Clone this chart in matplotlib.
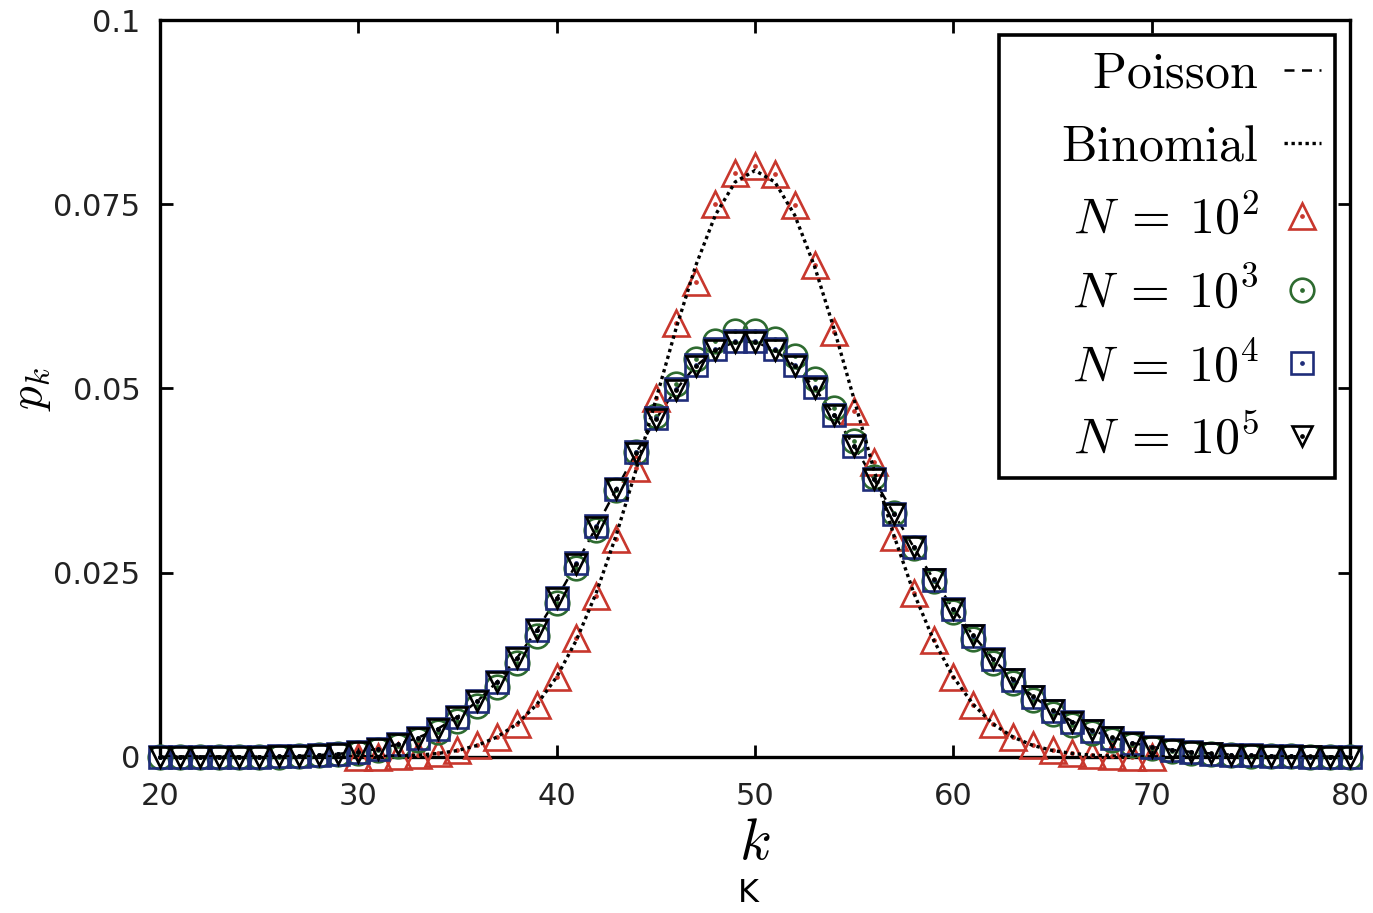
import numpy as np
import matplotlib
matplotlib.use('Agg')
import matplotlib.pyplot as plt

#-------------------------------------------------------------------------------
# data (degree k from 20 to 80)
#-------------------------------------------------------------------------------
k = list(range(20, 81))

# theory curves
poisson = [0.0, 0.0, 0.0, 0.00001, 0.00002, 0.00004, 0.00007, 0.00013, 0.00024, 0.00041,
           0.00068, 0.00109, 0.00171, 0.00259, 0.00380, 0.00543, 0.00755, 0.01020, 0.01342, 0.01720,
           0.02150, 0.02622, 0.03121, 0.03629, 0.04124, 0.04583, 0.04981, 0.05299, 0.05520, 0.05633,
           0.05633, 0.05522, 0.05310, 0.05009, 0.04638, 0.04217, 0.03765, 0.03302, 0.02847, 0.02413,
           0.02011, 0.01648, 0.01329, 0.01055, 0.00824, 0.00634, 0.00480, 0.00358, 0.00264, 0.00191,
           0.00136, 0.00096, 0.00067, 0.00046, 0.00031, 0.00021, 0.00014, 0.00009, 0.00006, 0.00004,
           0.00002]
binomial = [0.0, 0.0, 0.0, 0.0, 0.0, 0.0, 0.0, 0.0, 0.0, 0.0,
            0.00002, 0.00005, 0.00011, 0.00023, 0.00046, 0.00086, 0.00156, 0.00270, 0.00447, 0.00711,
            0.01084, 0.01587, 0.02229, 0.03007, 0.03895, 0.04847, 0.05796, 0.06659, 0.07353, 0.07803,
            0.07959, 0.07803, 0.07353, 0.06659, 0.05796, 0.04847, 0.03895, 0.03007, 0.02229, 0.01587,
            0.01084, 0.00711, 0.00447, 0.00270, 0.00156, 0.00086, 0.00046, 0.00023, 0.00011, 0.00005,
            0.00002, 0.0, 0.0, 0.0, 0.0, 0.0, 0.0, 0.0, 0.0, 0.0,
            0.0]

# N = 10^2 only has points between k=30 and k=70
k_n2 = list(range(30, 71))
n2 = [0.00002, 0.00004, 0.0001, 0.0002, 0.0005, 0.0009, 0.0016, 0.0027, 0.0045, 0.0071,
      0.0108, 0.0161, 0.0218, 0.0296, 0.0392, 0.0487, 0.0589, 0.0645, 0.0750, 0.0792,
      0.0802, 0.0791, 0.0749, 0.0668, 0.0577, 0.0470, 0.0400, 0.0299, 0.0222, 0.0159,
      0.0109, 0.0071, 0.0045, 0.0027, 0.0016, 0.0009, 0.0005, 0.0002, 0.0001, 0.00005,
      0.00002]
n3 = [0.0, 0.0, 0.0, 0.0, 0.0, 0.00003, 0.00005, 0.0001, 0.00019, 0.00033,
      0.00056, 0.00092, 0.00147, 0.00226, 0.00339, 0.00492, 0.00694, 0.00951, 0.01269, 0.01647,
      0.02082, 0.02566, 0.03084, 0.03616, 0.04140, 0.04629, 0.05058, 0.05404, 0.05647, 0.05774,
      0.05780, 0.05667, 0.05443, 0.05124, 0.04730, 0.04282, 0.03803, 0.03315, 0.02837, 0.02384,
      0.01968, 0.01596, 0.01272, 0.00997, 0.00768, 0.00582, 0.00434, 0.00318, 0.00230, 0.00163,
      0.00114, 0.00079, 0.00054, 0.00036, 0.00024, 0.00015, 0.0001, 0.00006, 0.00004, 0.00002,
      0.00001]
n4 = [0.0, 0.0, 0.0, 0.00001, 0.00002, 0.00004, 0.00007, 0.00012, 0.00023, 0.00040,
      0.00066, 0.00107, 0.00168, 0.00256, 0.00377, 0.00540, 0.00752, 0.01018, 0.01341, 0.01721,
      0.02153, 0.02628, 0.03130, 0.03640, 0.04136, 0.04596, 0.04995, 0.05313, 0.05533, 0.05648,
      0.05648, 0.05535, 0.05322, 0.05019, 0.04645, 0.04220, 0.03765, 0.03300, 0.02843, 0.02407,
      0.02004, 0.01641, 0.01322, 0.01048, 0.00818, 0.00628, 0.00475, 0.00354, 0.00260, 0.00188,
      0.00134, 0.00094, 0.00065, 0.00045, 0.00030, 0.00020, 0.00013, 0.00009, 0.00005, 0.00003,
      0.00002]
n5 = [0.0, 0.0, 0.0, 0.00001, 0.00002, 0.00004, 0.00007, 0.00013, 0.00024, 0.00041,
      0.00068, 0.00109, 0.00171, 0.00259, 0.00380, 0.00543, 0.00755, 0.01020, 0.01342, 0.01720,
      0.02150, 0.02622, 0.03121, 0.03629, 0.04124, 0.04583, 0.04981, 0.05299, 0.05520, 0.05633,
      0.05633, 0.05522, 0.05310, 0.05009, 0.04638, 0.04217, 0.03765, 0.03302, 0.02847, 0.02413,
      0.02011, 0.01648, 0.01329, 0.01055, 0.00824, 0.00634, 0.00480, 0.00358, 0.00264, 0.00191,
      0.00136, 0.00096, 0.00067, 0.00046, 0.00031, 0.00021, 0.00014, 0.00009, 0.00006, 0.00004,
      0.00002]

xticks = [20, 30, 40, 50, 60, 70, 80]
yticks = [0, 0.025, 0.05, 0.075, 0.1]
ytick_labels = ['0', '0.025', '0.05', '0.075', '0.1']

#-------------------------------------------------------------------------------
plt.rcParams['mathtext.fontset'] = 'cm'
plt.rcParams['font.family'] = 'DejaVu Sans'

fig = plt.figure(figsize=(13.73, 9.13), dpi=100)
ax = fig.add_axes([0.1165, 0.171, 0.8668, 0.807])

red = '#c8372d'
green = '#2e6b30'
blue = '#1f2d7a'

#theory lines
lp, = ax.plot(k, poisson, color='black', lw=1.8, ls=(0, (4, 3)), zorder=2)
lb, = ax.plot(k, binomial, color='black', lw=2.4, ls=(0, (1, 1.1)), zorder=6)

#simulated points, open markers with a dot in the middle (gnuplot style)
series = [(k_n2, n2, '^', red, 19),
          (k, n3, 'o', green, 17),
          (k, n4, 's', blue, 16.5),
          (k, n5, 'v', 'black', 15)]
handles = [lp, lb]
for xs, ys, mk, col, ms in series:
    m, = ax.plot(xs, ys, ls='none', marker=mk, ms=ms, mfc='none', mec=col,
                 mew=1.9, clip_on=False, zorder=3)
    d, = ax.plot(xs, ys, ls='none', marker='o', ms=2.4, mfc=col, mec=col,
                 clip_on=False, zorder=3)
    handles.append((m, d))

labels = [r'$\mathrm{Poisson}$', r'$\hspace{1.1}\mathrm{Binomial}$',
          r'$N\:=\:10^2$', r'$N\:=\:10^3$', r'$N\:=\:10^4$', r'$N\:=\:10^5$']
leg = ax.legend(handles, labels, loc='upper right', markerfirst=False,
                fontsize=36, handlelength=0.75, handletextpad=0.5,
                labelspacing=0.5, borderpad=0.28, borderaxespad=0.3,
                fancybox=False, framealpha=1, edgecolor='black')
leg.get_frame().set_linewidth(2.6)
leg.set_zorder(10)

#axes
ax.set_xlim(20, 80)
ax.set_ylim(0, 0.1)
ax.set_xticks(xticks)
ax.set_yticks(yticks)
ax.set_yticklabels(ytick_labels)
ax.tick_params(direction='in', length=9, width=2, top=True, right=True,
               labelsize=22, colors='black', labelcolor='#222222')
ax.tick_params(axis='x', pad=18)
ax.tick_params(axis='y', pad=14)
for sp in ax.spines.values():
    sp.set_linewidth(2.4)

ax.set_xlabel(r'$k$', fontsize=42, labelpad=2)
ax.set_ylabel(r'$p_k$', fontsize=34, labelpad=0)

fig.text(0.545, 0.004, 'K', fontsize=23, ha='center', va='bottom')

fig.savefig('out.png', dpi=100)
